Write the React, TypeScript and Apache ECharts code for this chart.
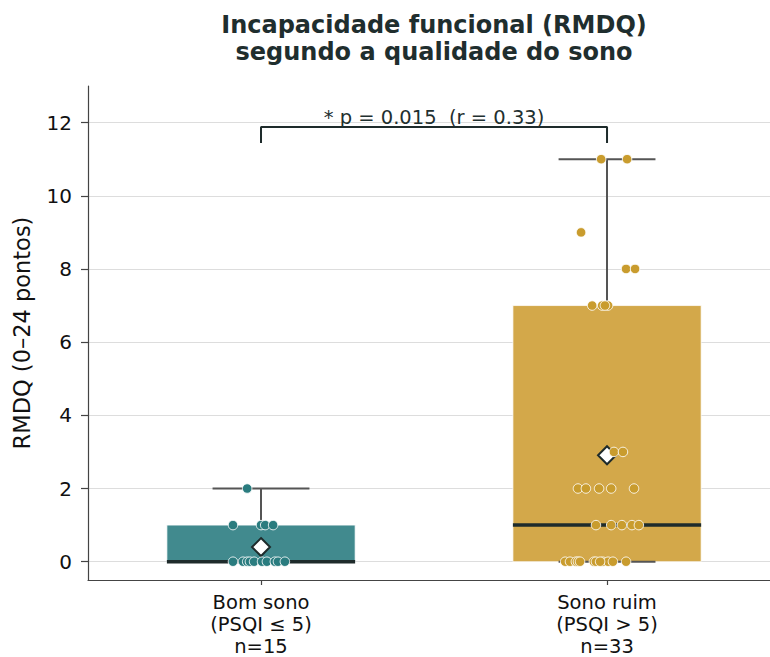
import React, { useEffect, useRef } from "react";
import * as echarts from "echarts";

const categories = ["Bom sono\n(PSQI ≤ 5)\nn=15", "Sono ruim\n(PSQI > 5)\nn=33"];
const yTicks = [0, 2, 4, 6, 8, 10, 12];

const bomSonoValues = [2, 1, 1, 1, 1, 0, 0, 0, 0, 0, 0, 0, 0, 0, 0];
const bomSonoJitter = [-0.04, -0.081, 0, 0.012, 0.035, -0.081, -0.052, -0.04, -0.032, -0.02, 0.003, 0.017, 0.04, 0.049, 0.069];

const sonoRuimValues = [
  11, 11, 9, 8, 8, 7, 7, 7, 7, 3, 3, 2, 2, 2, 2, 2, 1, 1, 1, 1, 1,
  0, 0, 0, 0, 0, 0, 0, 0, 0, 0, 0, 0,
];
const sonoRuimJitter = [
  -0.017, 0.058, -0.075, 0.055, 0.081, -0.043, -0.014, 0.003, -0.006, 0.02, 0.046,
  -0.084, -0.061, -0.023, 0.012, 0.078, -0.032, 0.043, 0.072, 0.092, 0.012,
  -0.121, -0.107, -0.09, -0.084, -0.078, -0.038, -0.032, -0.012, 0.003, 0.017, 0.055, -0.02,
];

const annotationText = "* p = 0.015  (r = 0.33)";

const boxColors = ["#418a8e", "#d3a84a"];
const pointColors = ["#2a7c7f", "#c99c2e"];
const dark = "#1e2b2b";
const font = "DejaVu Sans";

function quantile(sorted: number[], q: number) {
  const pos = (sorted.length - 1) * q;
  const lo = Math.floor(pos);
  const hi = Math.ceil(pos);
  return sorted[lo] + (sorted[hi] - sorted[lo]) * (pos - lo);
}

function stats(values: number[], x: number, idx: number) {
  const s = [...values].sort((a, b) => a - b);
  const q1 = quantile(s, 0.25);
  const med = quantile(s, 0.5);
  const q3 = quantile(s, 0.75);
  const iqr = q3 - q1;
  const lo = Math.min(...s.filter((v) => v >= q1 - 1.5 * iqr));
  const hi = Math.max(...s.filter((v) => v <= q3 + 1.5 * iqr));
  const mean = s.reduce((a, b) => a + b, 0) / s.length;
  return { box: [x, q1, q3, med, lo, hi, idx], mean };
}

export default function App() {
  const ref = useRef<HTMLDivElement>(null);
  useEffect(() => {
    document.body.style.margin = "0";
    const chart = echarts.init(ref.current!, null, { renderer: "svg" });
    const s1 = stats(bomSonoValues, 0, 0);
    const s2 = stats(sonoRuimValues, 1, 1);
    const hw = 0.272;
    const cw = 0.14;
    chart.setOption({
      animation: false,
      backgroundColor: "#ffffff",
      title: {
        text: "Incapacidade funcional (RMDQ)\nsegundo a qualidade do sono",
        left: 434,
        top: 11,
        padding: 0,
        textAlign: "center",
        textStyle: { fontFamily: font, fontSize: 24, fontWeight: "bold", lineHeight: 27, color: "#1f2e2e" },
      },
      grid: { left: 88, right: 0, top: 86, bottom: 77, containLabel: false, outerBoundsMode: "none" },
      xAxis: {
        type: "value",
        min: -0.5,
        max: 1.471,
        splitLine: { show: false },
        axisLine: { show: true, onZero: false, lineStyle: { color: "#444", width: 1.2 } },
        axisTick: { show: true, customValues: [0, 1], length: 5, lineStyle: { color: "#444", width: 1.2 } },
        axisLabel: {
          customValues: [0, 1],
          formatter: (v: number) => categories[Math.round(v)],
          fontFamily: font,
          fontSize: 19.5,
          lineHeight: 22,
          color: "#111",
          margin: 11,
        },
      },
      yAxis: {
        type: "value",
        min: -0.5,
        max: 13,
        name: "RMDQ (0–24 pontos)",
        nameLocation: "middle",
        nameGap: 55,
        nameTextStyle: { fontFamily: font, fontSize: 22.5, color: "#111" },
        splitLine: { show: false },
        axisLine: { show: true, onZero: false, lineStyle: { color: "#444", width: 1.2 } },
        axisTick: { show: true, customValues: yTicks, length: 7, lineStyle: { color: "#444", width: 1.2 } },
        axisLabel: { customValues: yTicks, fontFamily: font, fontSize: 20, color: "#111", margin: 16 },
      },
      series: [
        {
          type: "scatter",
          data: [],
          z: 0,
          markLine: {
            silent: true,
            z: 0,
            zlevel: 0,
            symbol: ["none", "none"],
            label: { show: false },
            lineStyle: { color: "#dddddd", width: 1, type: "solid", opacity: 1 },
            emphasis: { disabled: true },
            data: yTicks.map((v) => ({ yAxis: v })),
          },
        },
        {
          type: "custom",
          z: 2,
          data: [s1.box, s2.box],
          renderItem: (params: any, api: any) => {
            const x = api.value(0);
            const q1 = api.value(1);
            const q3 = api.value(2);
            const med = api.value(3);
            const lo = api.value(4);
            const hi = api.value(5);
            const ci = api.value(6);
            const tl = api.coord([x - hw, q3]);
            const br = api.coord([x + hw, q1]);
            const c = api.coord([x, q3]);
            const cHi = api.coord([x, hi]);
            const cQ1 = api.coord([x, q1]);
            const cLo = api.coord([x, lo]);
            const capL = api.coord([x - cw, hi]);
            const capR = api.coord([x + cw, hi]);
            const capL2 = api.coord([x - cw, lo]);
            const capR2 = api.coord([x + cw, lo]);
            const mL = api.coord([x - hw, med]);
            const mR = api.coord([x + hw, med]);
            const wStyle = { stroke: "#555555", lineWidth: 2 };
            return {
              type: "group",
              children: [
                {
                  type: "rect",
                  shape: { x: tl[0], y: tl[1], width: br[0] - tl[0], height: br[1] - tl[1] },
                  style: { fill: boxColors[ci], stroke: "rgba(255,255,255,0.75)", lineWidth: 1 },
                },
                { type: "line", shape: { x1: c[0], y1: c[1], x2: cHi[0], y2: cHi[1] }, style: wStyle },
                { type: "line", shape: { x1: capL[0], y1: capL[1], x2: capR[0], y2: capR[1] }, style: wStyle },
                { type: "line", shape: { x1: cQ1[0], y1: cQ1[1], x2: cLo[0], y2: cLo[1] }, style: wStyle },
                { type: "line", shape: { x1: capL2[0], y1: capL2[1], x2: capR2[0], y2: capR2[1] }, style: wStyle },
                { type: "line", shape: { x1: mL[0], y1: mL[1], x2: mR[0], y2: mR[1] }, style: { stroke: dark, lineWidth: 3.5 } },
              ],
            };
          },
        },
        {
          type: "scatter",
          z: 3,
          symbol: "diamond",
          symbolSize: 18,
          itemStyle: { color: "#ffffff", borderColor: dark, borderWidth: 2, opacity: 1 },
          data: [[0, s1.mean], [1, s2.mean]],
        },
        {
          type: "scatter",
          z: 4,
          symbolSize: 9.5,
          itemStyle: { color: pointColors[0], borderColor: "rgba(255,255,255,0.85)", borderWidth: 1, opacity: 1 },
          data: bomSonoValues.map((v, i) => [0 + bomSonoJitter[i], v]),
        },
        {
          type: "scatter",
          z: 4,
          symbolSize: 9.5,
          itemStyle: { color: pointColors[1], borderColor: "rgba(255,255,255,0.85)", borderWidth: 1, opacity: 1 },
          data: sonoRuimValues.map((v, i) => [1 + sonoRuimJitter[i], v]),
        },
        {
          type: "line",
          z: 5,
          symbol: "none",
          lineStyle: { color: dark, width: 2 },
          data: [[0, 11.44], [0, 11.88], [1, 11.88], [1, 11.44]],
        },
        {
          type: "scatter",
          z: 5,
          symbolSize: 0.1,
          itemStyle: { color: "transparent", opacity: 1 },
          label: {
            show: true,
            position: "inside",
            formatter: annotationText,
            fontFamily: font,
            fontSize: 19.5,
            color: "#1f3030",
            opacity: 1,
          },
          data: [[0.5, 12.15]],
        },
      ],
    });
    return () => chart.dispose();
  }, []);
  return <div ref={ref} style={{ width: 770, height: 657 }} />;
}
